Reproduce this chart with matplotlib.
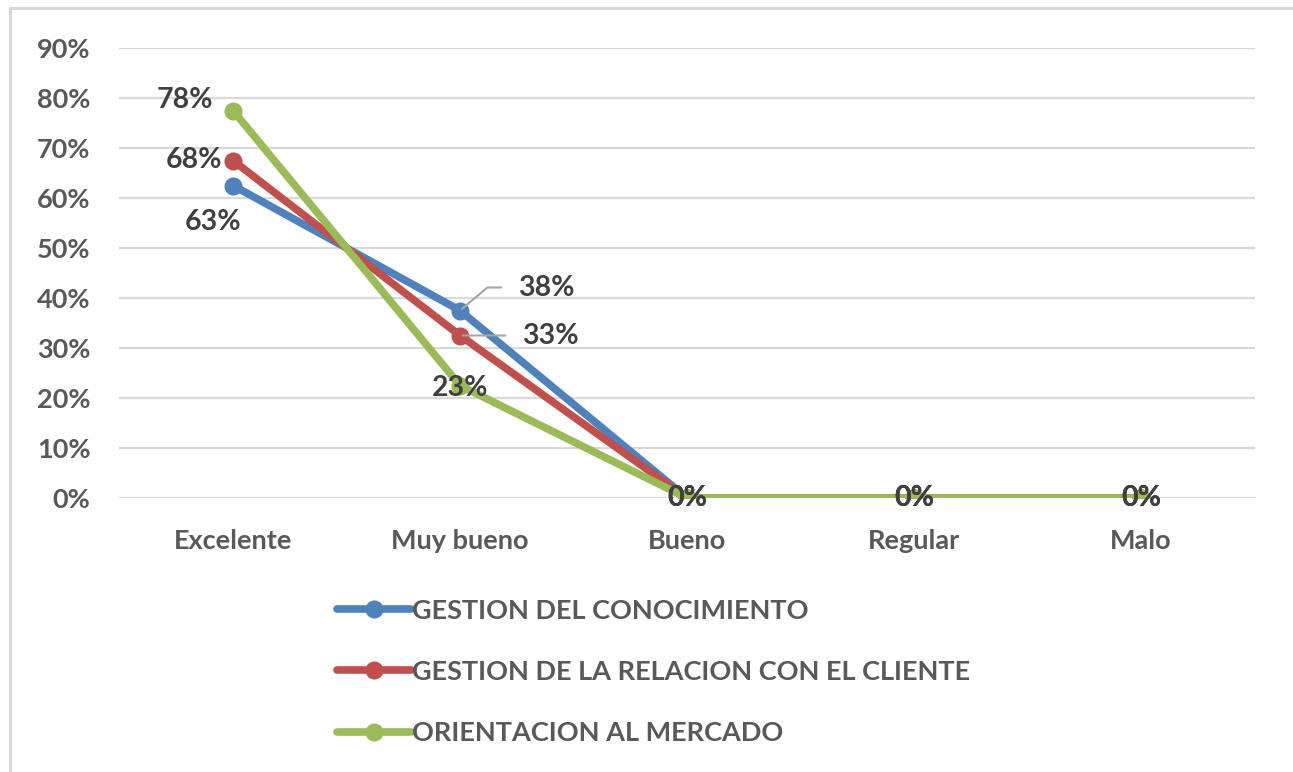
import matplotlib.pyplot as plt
from matplotlib.lines import Line2D
from matplotlib.ticker import PercentFormatter

# Data
categories = ['Excelente', 'Muy bueno', 'Bueno', 'Regular', 'Malo']
series_names = ['GESTION DEL CONOCIMIENTO',
                'GESTION DE LA RELACION CON EL CLIENTE',
                'ORIENTACION AL MERCADO']
gestion_conocimiento = [62.5, 37.5, 0, 0, 0]
relacion_cliente = [67.5, 32.5, 0, 0, 0]
orientacion_mercado = [77.5, 22.5, 0, 0, 0]
yticks = [0, 10, 20, 30, 40, 50, 60, 70, 80, 90]

colors = ['#4F81BD', '#C0504D', '#9BBB59']
label_color = '#404040'
tick_color = '#595959'

plt.rcParams['font.family'] = ['Lato', 'DejaVu Sans']

fig = plt.figure(figsize=(12.93, 7.72), dpi=100)
ax = fig.add_axes([119.5 / 1293, 274 / 772, 1135 / 1293, 450 / 772])

x = list(range(len(categories)))
all_series = [gestion_conocimiento, relacion_cliente, orientacion_mercado]
lines = []
for vals, name, c in zip(all_series, series_names, colors):
    ln, = ax.plot(x, vals, color=c, lw=5.5, marker='o', ms=12,
                  solid_capstyle='round', label=name, zorder=3)
    lines.append(ln)

ax.set_xlim(-0.5, len(categories) - 0.5)
ax.set_ylim(0, 90)
ax.set_yticks(yticks)
ax.yaxis.set_major_formatter(PercentFormatter(decimals=0))
ax.set_xticks(x)
ax.set_xticklabels(categories)
ax.grid(axis='y', color='#D9D9D9', lw=1.6, zorder=0)
ax.set_axisbelow(True)
for s in ax.spines.values():
    s.set_visible(False)
ax.tick_params(length=0, labelsize=19.5, labelcolor=tick_color)
ax.tick_params(axis='y', pad=21)
ax.tick_params(axis='x', pad=22)
for t in ax.get_xticklabels() + ax.get_yticklabels():
    t.set_fontweight('bold')

lab_kw = dict(textcoords='offset pixels', fontsize=20.5, fontweight='bold',
              color=label_color, va='center', zorder=5)

# Excelente labels
ax.annotate('%d%%' % round(orientacion_mercado[0] + 0.1), (0, orientacion_mercado[0]),
            xytext=(-20, 10), ha='right', **lab_kw)
ax.annotate('%d%%' % round(relacion_cliente[0] + 0.1), (0, relacion_cliente[0]),
            xytext=(-11, 0), ha='right', **lab_kw)
ax.annotate('%d%%' % round(gestion_conocimiento[0] + 0.1), (0, gestion_conocimiento[0]),
            xytext=(-20, -36), ha='center', **lab_kw)

# Muy bueno labels with leader lines
ax.annotate('%d%%' % round(gestion_conocimiento[1] + 0.1), (1, gestion_conocimiento[1]),
            xytext=(58, 23), ha='left',
            arrowprops=dict(arrowstyle='-', color='#A6A6A6', lw=1.5,
                            connectionstyle='angle,angleA=0,angleB=40,rad=0',
                            relpos=(0, 0.5), shrinkA=10, shrinkB=2),
            **lab_kw)
ax.annotate('%d%%' % round(relacion_cliente[1] + 0.1), (1, relacion_cliente[1]),
            xytext=(62, 0), ha='left',
            arrowprops=dict(arrowstyle='-', color='#A6A6A6', lw=1.5,
                            relpos=(0, 0.5), shrinkA=10, shrinkB=2),
            **lab_kw)
ax.annotate('%d%%' % round(orientacion_mercado[1] + 0.1), (1, orientacion_mercado[1]),
            xytext=(0, -2), ha='center', **lab_kw)

# zero labels
for i in range(2, len(categories)):
    for vals in all_series:
        ax.annotate('%d%%' % vals[i], (i, vals[i]), xytext=(0, 0),
                    ha='center', **lab_kw)

leg = fig.legend(handles=lines, loc='upper left',
                 bbox_to_anchor=(326 / 1293, 1 - 588 / 772),
                 frameon=False, fontsize=19.5, handlelength=2.75,
                 handletextpad=0.03, labelspacing=1.37, borderaxespad=0)
for t in leg.get_texts():
    t.set_color(tick_color)
    t.set_fontweight('bold')

# chart frame (top and left edges visible)
fig.add_artist(Line2D([10 / 1293, 1], [1 - 8 / 772, 1 - 8 / 772],
                      color='#D9D9D9', lw=2.2, transform=fig.transFigure))
fig.add_artist(Line2D([10 / 1293, 10 / 1293], [0, 1 - 8 / 772],
                      color='#D9D9D9', lw=2.2, transform=fig.transFigure))

fig.savefig('out.png', dpi=100)
